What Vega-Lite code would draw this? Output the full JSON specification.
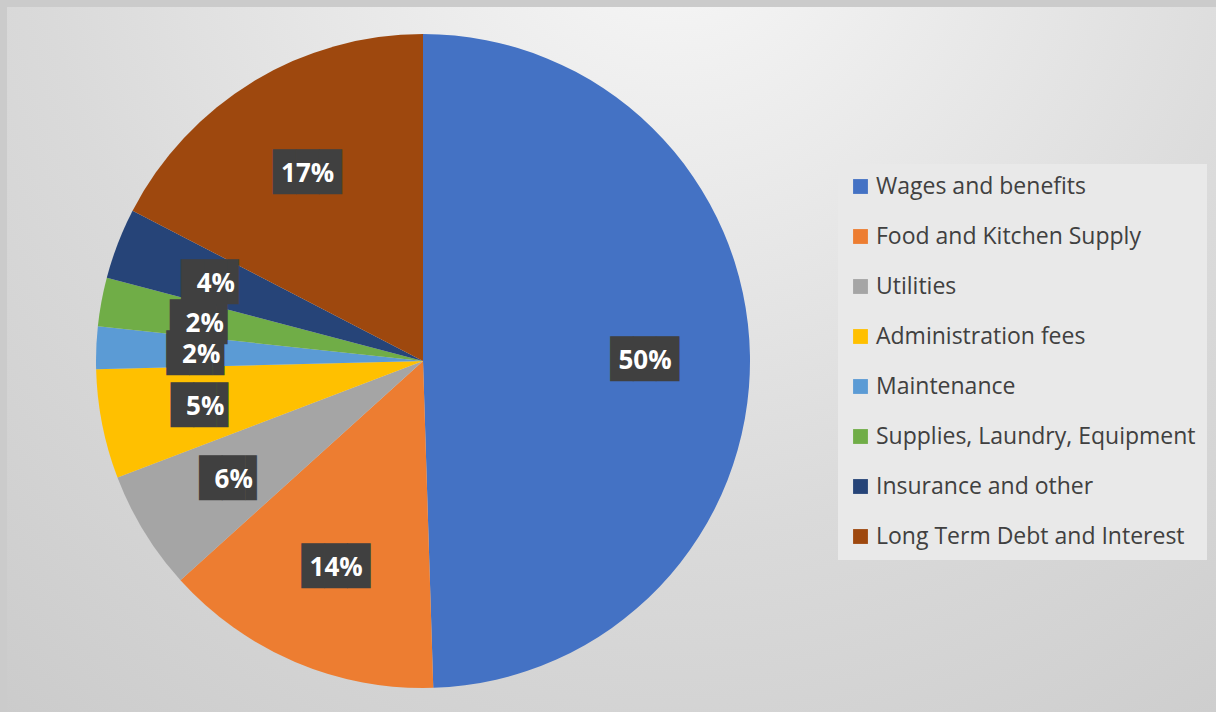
{
  "$schema": "https://vega.github.io/schema/vega-lite/v6.json",
  "autosize": {"type": "fit", "contains": "padding"},
  "width": 1216,
  "height": 712,
  "padding": {"left": 7, "top": 7, "right": 0, "bottom": 0},
  "background": "#cbcbcb",
  "config": {"view": {"stroke": null}},
  "datasets": {
    "costs": [
      {"o": 1, "cat": "Wages and benefits", "v": 49.5, "label": "50%"},
      {"o": 2, "cat": "Food and Kitchen Supply", "v": 13.8, "label": "14%"},
      {"o": 3, "cat": "Utilities", "v": 5.9, "label": "6%"},
      {"o": 4, "cat": "Administration fees", "v": 5.4, "label": "5%"},
      {"o": 5, "cat": "Maintenance", "v": 2.1, "label": "2%"},
      {"o": 6, "cat": "Supplies, Laundry, Equipment", "v": 2.4, "label": "2%"},
      {"o": 7, "cat": "Insurance and other", "v": 3.5, "label": "4%"},
      {"o": 8, "cat": "Long Term Debt and Interest", "v": 17.4, "label": "17%"}
    ]
  },
  "layer": [
    {
      "data": {"values": [{}]},
      "mark": {
        "type": "rect",
        "fill": {
          "gradient": "radial",
          "x1": 0.55, "y1": 0.12, "r1": 0,
          "x2": 0.55, "y2": 0.12, "r2": 0.95,
          "stops": [
            {"offset": 0, "color": "#f8f8f8"},
            {"offset": 0.55, "color": "#dadada"},
            {"offset": 1, "color": "#c8c8c8"}
          ]
        }
      }
    },
    {
      "data": {"name": "costs"},
      "mark": {"type": "arc", "outerRadius": 327, "x": 416, "y": 354},
      "encoding": {
        "theta": {"field": "v", "type": "quantitative", "stack": true},
        "order": {"field": "o", "type": "quantitative"},
        "color": {
          "field": "cat",
          "type": "nominal",
          "sort": null,
          "scale": {
            "domain": ["Wages and benefits", "Food and Kitchen Supply", "Utilities", "Administration fees", "Maintenance", "Supplies, Laundry, Equipment", "Insurance and other", "Long Term Debt and Interest"],
            "range": ["#4472C4", "#ED7D31", "#A5A5A5", "#FFC000", "#5B9BD5", "#70AD47", "#264478", "#9E480E"]
          },
          "legend": {
            "title": null,
            "orient": "none",
            "legendX": 831,
            "legendY": 157,
            "padding": 11,
            "fillColor": "#e9e9e9",
            "symbolType": "square",
            "symbolSize": 220,
            "symbolStrokeWidth": 0,
            "labelFont": "Open Sans",
            "labelFontSize": 23,
            "labelColor": "#404040",
            "labelOffset": 4,
            "labelLimit": 400,
            "rowPadding": 26
          }
        }
      }
    },
    {
      "data": {"name": "costs"},
      "mark": {"type": "text", "radius": 222, "x": 416, "y": 354, "dy": 3, "font": "DejaVu Sans Mono", "fontSize": 38, "color": "#404040", "baseline": "middle", "align": "center"},
      "encoding": {
        "theta": {"field": "v", "type": "quantitative", "stack": true},
        "order": {"field": "o", "type": "quantitative"},
        "detail": {"field": "cat", "type": "nominal"},
        "text": {"condition": {"test": "length(datum.label) > 2", "value": "███"}, "value": "██▌"}
      }
    },
    {
      "data": {"name": "costs"},
      "mark": {"type": "text", "radius": 222, "x": 416, "y": 354, "dy": 3, "font": "Open Sans", "fontWeight": "bold", "fontSize": 26, "color": "#ffffff", "baseline": "middle", "align": "center"},
      "encoding": {
        "theta": {"field": "v", "type": "quantitative", "stack": true},
        "order": {"field": "o", "type": "quantitative"},
        "detail": {"field": "cat", "type": "nominal"},
        "text": {"field": "label", "type": "nominal"}
      }
    }
  ]
}
